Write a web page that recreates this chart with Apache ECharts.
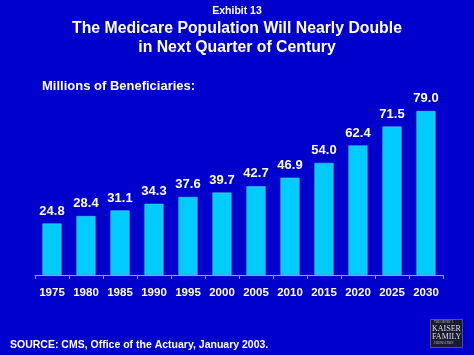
<!DOCTYPE html>
<html><head><meta charset="utf-8">
<script src="https://cdn.jsdelivr.net/npm/echarts@6/dist/echarts.min.js"></script>
<style>html,body{margin:0;padding:0;background:#0000CC;}#c{width:474px;height:355px;}</style>
</head><body><div id="c"></div>
<script>
const years = ['1975','1980','1985','1990','1995','2000','2005','2010','2015','2020','2025','2030'];
const beneficiaries = [24.8, 28.4, 31.1, 34.3, 37.6, 39.7, 42.7, 46.9, 54.0, 62.4, 71.5, 79.0];
const FONT = '"Liberation Sans", Arial, sans-serif';
const chart = echarts.init(document.getElementById('c'));
chart.setOption({
  backgroundColor: '#0000CC',
  animation: false,
  title: [
    {text: 'Exhibit 13', left: 'center', top: 1, textStyle: {color: '#fff', fontSize: 10.5, fontWeight: 'bold', fontFamily: FONT}},
    {text: 'The Medicare Population Will Nearly Double\nin Next Quarter of Century', left: 'center', top: 14, textStyle: {color: '#fff', fontSize: 15.8, fontWeight: 'bold', fontFamily: FONT, lineHeight: 19}},
    {text: 'Millions of Beneficiaries:', left: 37, top: 75, textStyle: {color: '#fff', fontSize: 13, fontWeight: 'bold', fontFamily: FONT}},
    {text: 'SOURCE: CMS, Office of the Actuary, January 2003.', left: 5, top: 335, textStyle: {color: '#fff', fontSize: 10.5, fontWeight: 'bold', fontFamily: FONT}}
  ],
  grid: {left: 35, right: 31, top: 67.4, height: 207.6},
  xAxis: {
    type: 'category', data: years,
    axisLine: {lineStyle: {color: '#9999dd', width: 1}},
    axisTick: {show: true, inside: false, length: 4, lineStyle: {color: '#9999dd'}},
    axisLabel: {interval: 0, color: '#fff', fontSize: 11.5, fontWeight: 'bold', fontFamily: FONT, margin: 12}
  },
  yAxis: {type: 'value', min: 0, max: 100, show: false, splitLine: {show: false}},
  series: [{
    type: 'bar', data: beneficiaries, barWidth: 19,
    itemStyle: {color: '#00CCFF', borderColor: '#66ddff', borderWidth: 0.5},
    label: {show: true, position: 'top', distance: 6, color: '#fff', fontSize: 13, fontWeight: 'bold', fontFamily: FONT,
      formatter: p => p.value.toFixed(1)}
  }],
  graphic: [
    {type: 'rect', left: 430, top: 319, shape: {width: 32, height: 28}, style: {fill: '#1a1a33', stroke: '#555566', lineWidth: 1}},
    {type: 'text', left: 434, top: 321, style: {text: 'THE HENRY J.', fill: '#bbbbbb', font: '3px serif'}},
    {type: 'text', left: 432, top: 325, style: {text: 'KAISER', fill: '#dddddd', font: '8px "Liberation Serif", serif'}},
    {type: 'text', left: 432, top: 333, style: {text: 'FAMILY', fill: '#dddddd', font: '8px "Liberation Serif", serif'}},
    {type: 'text', left: 434, top: 342, style: {text: 'FOUNDATION', fill: '#bbbbbb', font: '3px serif'}}
  ]
});
</script></body></html>
